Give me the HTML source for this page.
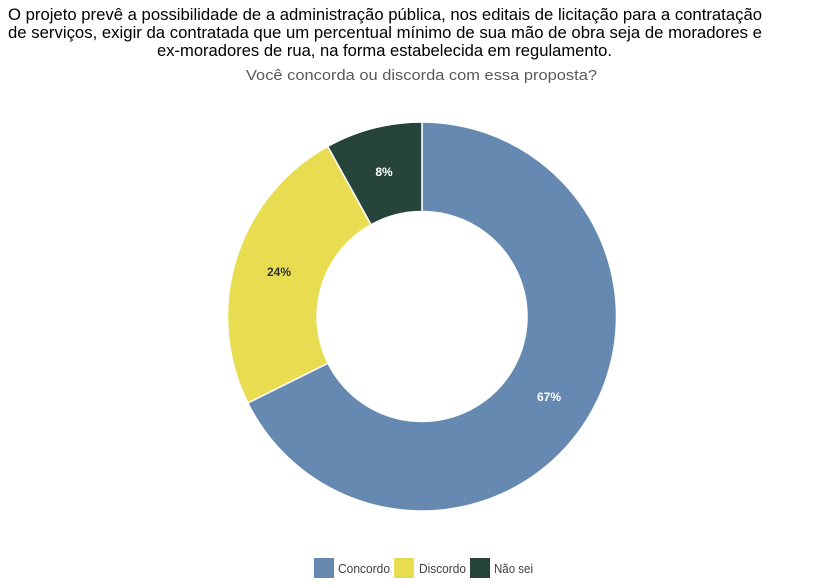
<!DOCTYPE html>
<html><head><meta charset="utf-8"><style>
body{margin:0;background:#fff;width:825px;height:581px;overflow:hidden;font-family:"Liberation Sans",Arial,sans-serif}
</style></head><body>
<svg width="825" height="581" xmlns="http://www.w3.org/2000/svg" font-family="Liberation Sans, Arial, sans-serif">
<g font-size="16.5" fill="#000">
<text x="8" y="20" textLength="754" lengthAdjust="spacingAndGlyphs">O projeto prevê a possibilidade de a administração pública, nos editais de licitação para a contratação</text>
<text x="8" y="38" textLength="754" lengthAdjust="spacingAndGlyphs">de serviços, exigir da contratada que um percentual mínimo de sua mão de obra seja de moradores e</text>
<text x="157" y="56" textLength="455" lengthAdjust="spacingAndGlyphs">ex-moradores de rua, na forma estabelecida em regulamento.</text>
</g>
<text x="246" y="80" font-size="15" fill="#595959" textLength="351" lengthAdjust="spacingAndGlyphs">Você concorda ou discorda com essa proposta?</text>
<g stroke="#fff" stroke-width="1.5">
<path d="M422,122 A194.5,194.5 0 1 1 247.8,403 L328,363.2 A105,105 0 1 0 422,211.5 Z" fill="#6689b2"/>
<path d="M247.8,403 A194.5,194.5 0 0 1 327.7,146.4 L371.1,224.7 A105,105 0 0 0 328,363.2 Z" fill="#e8dd50"/>
<path d="M327.7,146.4 A194.5,194.5 0 0 1 422,122 L422,211.5 A105,105 0 0 0 371.1,224.7 Z" fill="#27443a"/>
</g>
<g font-size="12" font-weight="bold" text-anchor="middle">
<text x="549" y="401" fill="#fff">67%</text>
<text x="279" y="276" fill="#333">24%</text>
<text x="384" y="176" fill="#fff">8%</text>
</g>
<g font-size="13" fill="#404040">
<rect x="314" y="558" width="20" height="20" fill="#6689b2"/><text x="338" y="573" textLength="52" lengthAdjust="spacingAndGlyphs">Concordo</text>
<rect x="394" y="558" width="20" height="20" fill="#e8dd50"/><text x="419" y="573" textLength="47" lengthAdjust="spacingAndGlyphs">Discordo</text>
<rect x="470" y="558" width="20" height="20" fill="#27443a"/><text x="494" y="573" textLength="39" lengthAdjust="spacingAndGlyphs">Não sei</text>
</g>
</svg>
</body></html>
